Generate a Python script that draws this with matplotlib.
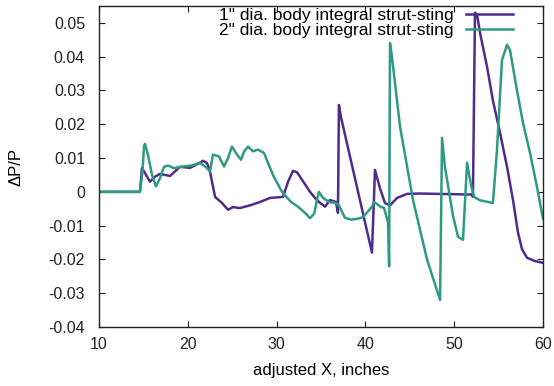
import matplotlib
matplotlib.use("Agg")
import matplotlib.pyplot as plt

# Series 1: 1" dia. body integral strut-sting (purple)
x1 = [10.0, 14.61, 14.84, 15.74, 16.32, 16.86, 18.0, 19.12, 20.25, 21.37, 21.71, 22.17,
      22.5, 23.07, 23.85, 24.53, 25.09, 25.87, 27.0, 28.14, 29.26, 30.72, 31.29, 31.84,
      32.3, 33.76, 34.55, 35.45, 36.01, 36.69, 36.91, 37.02, 37.26, 40.74, 41.08, 41.65,
      42.2, 42.77, 43.56, 44.69, 46.15, 52.0, 52.11, 52.34, 52.57, 52.91, 53.7, 54.36,
      55.16, 55.95, 56.62, 57.18, 57.64, 58.2, 59.1, 60.0]
y1 = [0.0, 0.0, 0.0071, 0.003, 0.0045, 0.0053, 0.0047, 0.0074, 0.0071, 0.0086, 0.0092, 0.0085,
      0.006, -0.0015, -0.0033, -0.0053, -0.0045, -0.0048, -0.004, -0.003, -0.0018, -0.0015, 0.003, 0.0062,
      0.0058, 0.0, -0.0025, -0.0044, -0.0024, -0.003, -0.0062, 0.0257, 0.022, -0.018, 0.0065, 0.001,
      -0.0033, -0.004, -0.0018, -0.0006, -0.0005, -0.0008, -0.0015, 0.053, 0.0525, 0.047, 0.037, 0.027,
      0.0175, 0.0074, -0.0024, -0.012, -0.017, -0.0195, -0.0205, -0.021]

# Series 2: 2" dia. body integral strut-sting (green)
x2 = [10.0, 14.61, 14.9, 15.07, 15.18, 15.51, 15.97, 16.42, 16.86, 17.32, 17.77, 18.45, 19.46,
      20.47, 21.37, 22.17, 22.5, 22.83, 23.51, 24.08, 24.53, 24.97, 25.54, 25.99, 26.35, 26.78,
      27.34, 27.9, 28.58, 29.59, 30.5, 30.94, 31.62, 32.41, 33.31, 33.76, 34.22, 34.76, 35.23,
      35.9, 36.69, 37.02, 37.7, 38.38, 39.05, 39.73, 40.74, 40.97, 41.76, 42.09, 42.55, 42.67,
      42.77, 42.99, 43.9, 45.36, 46.94, 48.41, 48.63, 48.95, 49.86, 50.43, 50.99, 51.45, 51.89,
      52.23, 52.91, 54.36, 54.82, 55.38, 55.95, 56.28, 57.07, 57.75, 58.54, 59.32, 60.0]
y2 = [0.0, 0.0, 0.006, 0.0135, 0.0142, 0.011, 0.005, 0.0016, 0.004, 0.0074, 0.0078, 0.007, 0.0075,
      0.0078, 0.0086, 0.007, 0.006, 0.011, 0.0105, 0.0075, 0.010, 0.0134, 0.011, 0.0095, 0.012, 0.0134,
      0.012, 0.0125, 0.0115, 0.005, 0.0005, -0.001, -0.003, -0.0044, -0.0065, -0.0078, -0.0065, 0.0, -0.0018,
      -0.003, -0.0033, -0.004, -0.0077, -0.0082, -0.008, -0.0075, -0.0044, -0.003, -0.0045, -0.0047, -0.009, -0.022,
      0.044, 0.040, 0.0193, -0.0024, -0.020, -0.032, 0.016, 0.0075, -0.007, -0.0133, -0.0142, 0.0086, 0.002,
      -0.0015, -0.0025, -0.0033, 0.0124, 0.039, 0.0435, 0.042, 0.030, 0.0204, 0.0115, 0.0015, -0.008]

labels = ['1" dia. body integral strut-sting', '2" dia. body integral strut-sting']
xticks = [10, 20, 30, 40, 50, 60]
yticks = [-0.04, -0.03, -0.02, -0.01, 0, 0.01, 0.02, 0.03, 0.04, 0.05]
ytick_labels = ['-0.04', '-0.03', '-0.02', '-0.01', '0', '0.01', '0.02', '0.03', '0.04', '0.05']

plt.rcParams['font.family'] = ['Liberation Sans', 'DejaVu Sans']
fs = 11.5

fig = plt.figure(figsize=(5.54, 3.86), dpi=100)
ax = fig.add_axes([99/554, 1 - 327/386, (543 - 99)/554, (327 - 6)/386])

ax.plot(x1, y1, color='#4f2b8c', lw=1.8, label=labels[0])
ax.plot(x2, y2, color='#2e9a82', lw=1.8, label=labels[1])

ax.set_xlim(10, 60)
ax.set_ylim(-0.04, 0.055)
ax.set_xticks(xticks)
ax.set_xticklabels([str(t) for t in xticks], fontsize=fs)
ax.set_yticks(yticks)
ax.set_yticklabels(ytick_labels, fontsize=fs)
ax.tick_params(direction='in', length=4, width=0.8, top=True, right=True, colors='#222222')
ax.tick_params(axis='y', pad=10)
ax.tick_params(axis='x', pad=7)
for s in ax.spines.values():
    s.set_linewidth(1.0)
    s.set_color('#222222')

ax.set_xlabel('adjusted X, inches', fontsize=12, labelpad=8)
ax.set_ylabel('ΔP/P', fontsize=12, labelpad=18)

ax.legend(loc='upper right', bbox_to_anchor=(513/554, 1 - 8/386), bbox_transform=fig.transFigure,
          frameon=False, markerfirst=False, fontsize=12.5, handlelength=2.7,
          handletextpad=0.7, labelspacing=0.0, borderaxespad=0.0, borderpad=0.0)

fig.savefig('out.png', dpi=100)
